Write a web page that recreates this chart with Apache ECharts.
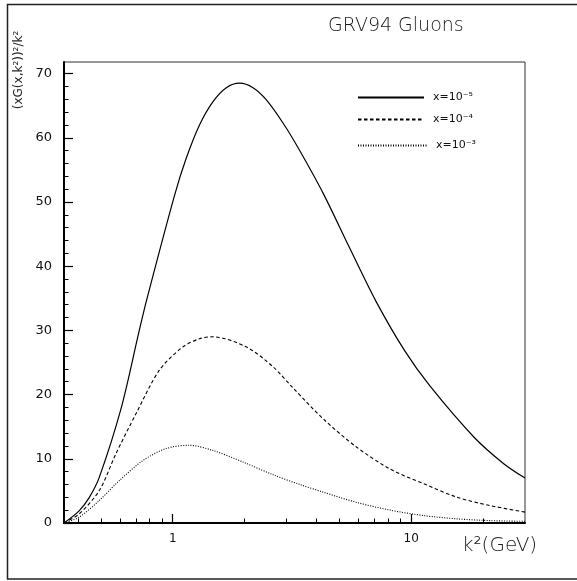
<!DOCTYPE html>
<html>
<head>
<meta charset="utf-8">
<script src="https://cdn.jsdelivr.net/npm/echarts@6/dist/echarts.min.js"></script>
<style>html,body{margin:0;padding:0;background:#fff;}#c{width:577px;height:581px;}</style>
</head>
<body>
<div id="c"></div>
<script>
// ---- data ----
const seriesNames = ['x=10⁻⁵', 'x=10⁻⁴', 'x=10⁻³'];
const k2_a = [0.35, 0.405, 0.447, 0.492, 0.607, 0.724, 0.778, 1.017, 1.139, 1.295, 1.473, 1.678, 1.909, 2.17, 2.47, 2.90, 3.36, 4.28, 5.54, 7.1, 9.4, 12.0, 18.3, 24.5, 30];
const val_a = [0.0, 1.9, 4.0, 7.1, 17.8, 30.0, 34.8, 51.0, 56.8, 62.0, 65.6, 67.8, 68.5, 67.8, 65.9, 62.3, 58.4, 51.3, 42.7, 34.6, 26.8, 21.3, 13.4, 9.2, 7.0];
const k2_b = [0.35, 0.405, 0.492, 0.578, 0.701, 0.879, 1.10, 1.295, 1.473, 2.04, 2.64, 3.2, 4.28, 5.91, 8.16, 11.3, 15.6, 21.5, 30];
const val_b = [0.0, 1.4, 5.05, 10.8, 17.0, 23.8, 27.4, 28.7, 29.0, 27.4, 24.3, 21.0, 16.2, 11.8, 8.4, 6.1, 4.0, 2.7, 1.7];
const k2_c = [0.35, 0.405, 0.492, 0.597, 0.748, 0.938, 1.175, 1.473, 1.97, 2.64, 3.41, 4.28, 5.91, 8.16, 11.3, 15.6, 21.5, 30];
const val_c = [0.0, 0.9, 3.5, 6.6, 9.7, 11.6, 12.1, 11.3, 9.5, 7.5, 6.0, 4.8, 3.2, 2.0, 1.15, 0.64, 0.37, 0.26];
const xMajorTicks = [1, 10];
const xMinorTicks = [0.4, 0.5, 0.6, 0.7, 0.8, 0.9, 2, 3, 4, 5, 6, 7, 8, 9, 20];
const yMajorTicks = [0, 10, 20, 30, 40, 50, 60, 70];
const yMinorTicks = [2,4,6,8,12,14,16,18,22,24,26,28,32,34,36,38,42,44,46,48,52,54,56,58,62,64,66,68];
const titleText = 'GRV94 Gluons';
const xName = 'k²(GeV)';
const yName = '(xG(x,k²))²/k²';

const pair = (xs, ys) => xs.map((x, i) => [x, ys[i]]);
const FONT = 'DejaVu Sans';
const X_MIN = 0.35, X_MAX = 30, Y_MIN = 0, Y_MAX = 71.8;

const chart = echarts.init(document.getElementById('c'), null, {renderer: 'canvas'});
const lineTypes = ['solid', [3.5, 2.5], [1, 1.5]];
const datas = [pair(k2_a, val_a), pair(k2_b, val_b), pair(k2_c, val_c)];
const legendTops = [92, 114, 140];
const legendWidths = [66, 66, 69];

chart.setOption({
  animation: false,
  backgroundColor: '#fff',
  textStyle: {fontFamily: FONT},
  grid: {left: 64, top: 62, right: 52, bottom: 58, show: true, borderColor: '#333', borderWidth: 1, containLabel: false},
  legend: seriesNames.map((n, i) => ({
    data: [n], left: 357, top: legendTops[i], padding: 0,
    itemWidth: legendWidths[i], itemHeight: 10,
    selectedMode: false,
    itemStyle: {opacity: 0, borderWidth: 0},
    textStyle: {fontFamily: FONT, fontSize: 11, color: '#111', padding: [0, 0, 0, 4]}
  })),
  xAxis: [
    {
      type: 'log', logBase: 10, min: X_MIN, max: X_MAX,
      axisLine: {show: true, onZero: false, lineStyle: {color: '#000', width: 2}},
      axisTick: {show: true, inside: true, length: 9, customValues: xMajorTicks, lineStyle: {color: '#000', width: 1.2}},
      axisLabel: {show: true, customValues: xMajorTicks, margin: 10, fontFamily: FONT, fontSize: 12, color: '#111'},
      splitLine: {show: false}, minorTick: {show: false}
    },
    {
      type: 'log', logBase: 10, min: X_MIN, max: X_MAX, position: 'bottom',
      axisLine: {show: false},
      axisTick: {show: true, inside: true, length: 4.5, customValues: xMinorTicks, lineStyle: {color: '#000', width: 1}},
      axisLabel: {show: false},
      splitLine: {show: false}
    }
  ],
  yAxis: [
    {
      type: 'value', min: Y_MIN, max: Y_MAX,
      axisLine: {show: true, onZero: false, lineStyle: {color: '#000', width: 2}},
      axisTick: {show: true, inside: true, length: 9, customValues: yMajorTicks, lineStyle: {color: '#000', width: 1.2}},
      axisLabel: {show: true, customValues: yMajorTicks, margin: 12, fontFamily: FONT, fontSize: 13, color: '#111'},
      splitLine: {show: false}
    },
    {
      type: 'value', min: Y_MIN, max: Y_MAX, position: 'left',
      axisLine: {show: false},
      axisTick: {show: true, inside: true, length: 4.5, customValues: yMinorTicks, lineStyle: {color: '#000', width: 1}},
      axisLabel: {show: false},
      splitLine: {show: false}
    }
  ],
  series: seriesNames.map((n, i) => ({
    name: n, type: 'line', xAxisIndex: 0, yAxisIndex: 0,
    data: datas[i], showSymbol: false, symbol: 'none',
    smooth: 0.3, clip: true,
    lineStyle: {color: '#000', width: i === 0 ? 1.2 : 1.1, type: lineTypes[i]},
    itemStyle: {color: '#000'}
  })),
  graphic: [
    {type: 'rect', silent: true, z: -1, shape: {x: 7.5, y: 4.5, width: 590, height: 574.5},
     style: {fill: null, stroke: '#222', lineWidth: 1.5}},
    {type: 'text', left: 328, top: 17, style: {text: titleText, fontFamily: FONT, fontSize: 19, fontWeight: 200, fill: '#1a1a1a'}},
    {type: 'text', left: 462, top: 536, style: {text: xName, fontFamily: FONT, fontSize: 20, fontWeight: 200, fill: '#1a1a1a'}},
    {type: 'text', x: 19, y: 70, rotation: Math.PI / 2,
     style: {text: yName, fontFamily: FONT, fontSize: 12, fill: '#222', align: 'center', verticalAlign: 'middle'}}
  ]
});
</script>
</body>
</html>
